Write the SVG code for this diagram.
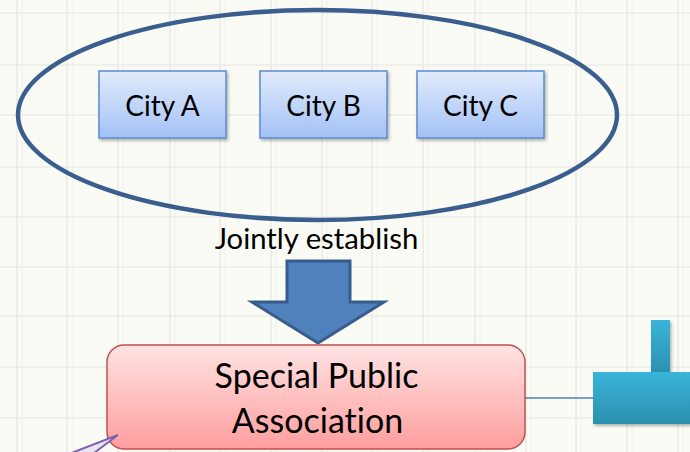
<svg xmlns="http://www.w3.org/2000/svg" width="690" height="452" viewBox="0 0 690 452">
<style>
.grid{stroke:#e6e6df;stroke-width:1.2;fill:none}
.gridm{stroke:#f0f0ea;stroke-width:1;fill:none}
.city{fill:url(#gBlue);stroke:#5b8bd0;stroke-width:1.5;filter:url(#sh)}
.lbl{font-family:Lato,"Liberation Sans",sans-serif;fill:#000;text-anchor:middle;font-variant-ligatures:none;font-feature-settings:"liga" 0,"clig" 0}
</style>
<defs>
<linearGradient id="gBlue" x1="0" y1="0" x2="0" y2="1">
<stop offset="0" stop-color="#e1ebfc"/><stop offset="1" stop-color="#a3c1f5"/>
</linearGradient>
<linearGradient id="gPink" x1="0" y1="0" x2="0" y2="1">
<stop offset="0" stop-color="#ffe3e3"/><stop offset="1" stop-color="#ff9e9e"/>
</linearGradient>
<linearGradient id="gTeal" x1="0" y1="0" x2="0" y2="1">
<stop offset="0" stop-color="#39b5da"/><stop offset="1" stop-color="#2b8fae"/>
</linearGradient>
<filter id="sh" x="-10%" y="-10%" width="125%" height="130%">
<feDropShadow dx="1.5" dy="2" stdDeviation="1.5" flood-color="#000" flood-opacity="0.3"/>
</filter>
</defs>
<rect width="690" height="452" fill="#fbfbf6"/>
<g id="grid">
<path class="gridm" d="M22 0V452M73 0V452M123 0V452M175 0V452M225 0V452M276 0V452M327 0V452M377 0V452M428 0V452M480 0V452M531 0V452M581 0V452M632 0V452M683 0V452"/>
<path class="grid" d="M17 0V452M67 0V452M118 0V452M170 0V452M220 0V452M271 0V452M322 0V452M372 0V452M423 0V452M475 0V452M526 0V452M576 0V452M627 0V452M678 0V452"/>
<path class="grid" d="M0 13H690M0 65H690M0 115H690M0 167H690M0 217H690M0 267H690M0 316H690M0 367H690M0 418H690"/>
</g>
<g id="group-ellipse">
<ellipse cx="317.5" cy="115" rx="299.5" ry="105" fill="none" stroke="#3a5f8f" stroke-width="4.5"/>
</g>
<g id="city-a">
<rect class="city" x="99" y="71" width="127" height="67"/>
<text class="lbl" x="162.5" y="116" font-size="28">City A</text>
</g>
<g id="city-b">
<rect class="city" x="260" y="71" width="127" height="67"/>
<text class="lbl" x="323.5" y="116" font-size="28">City B</text>
</g>
<g id="city-c">
<rect class="city" x="417" y="71" width="127" height="67"/>
<text class="lbl" x="480.5" y="116" font-size="28">City C</text>
</g>
<g id="connectors">
<text class="lbl" x="316.5" y="249" font-size="29.3">Jointly establish</text>
<polygon points="287,261 350,261 350,302 384,302 318,343 252,302 287,302" fill="#4f81bd" stroke="#385d8a" stroke-width="3" stroke-linejoin="miter"/>
<line x1="525" y1="398" x2="594" y2="398" stroke="#4f81bd" stroke-width="1.5"/>
</g>
<g id="association">
<rect x="107" y="345" width="418" height="104" rx="17" fill="url(#gPink)" stroke="#c0504d" stroke-width="1.5"/>
<text class="lbl" x="316.5" y="388" font-size="34">Special Public</text>
<text class="lbl" x="317.5" y="433" font-size="34">Association</text>
</g>
<g id="callout">
<polygon points="118,435 48,462 82,462" fill="#ebe5f3" stroke="#7e62b0" stroke-width="2"/>
</g>
<g id="teal-shape" filter="url(#sh)">
<rect x="651" y="320" width="19" height="55" fill="url(#gTeal)"/>
<rect x="593" y="372" width="110" height="52" fill="url(#gTeal)"/>
</g>
</svg>
